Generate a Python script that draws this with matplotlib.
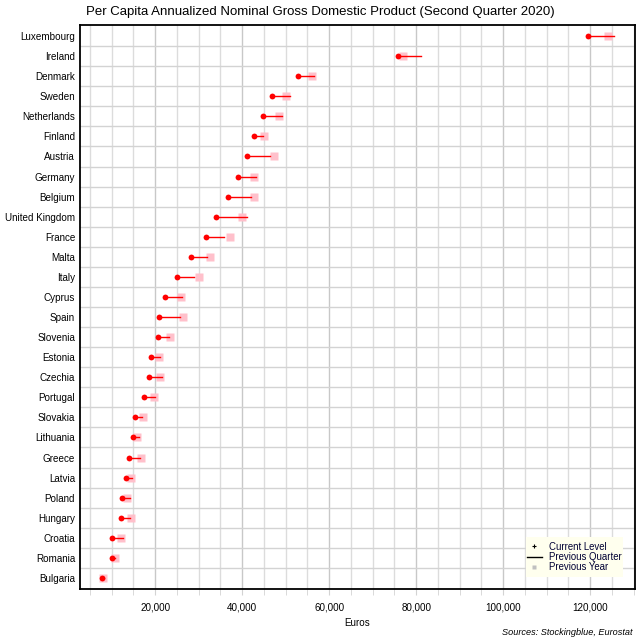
import matplotlib
matplotlib.use("Agg")
import matplotlib.pyplot as plt
from matplotlib.lines import Line2D
from matplotlib.patches import Rectangle
from matplotlib.ticker import MultipleLocator, FuncFormatter

plt.rcParams["font.family"] = ["Liberation Sans", "DejaVu Sans"]

countries = ["Luxembourg", "Ireland", "Denmark", "Sweden", "Netherlands", "Finland",
             "Austria", "Germany", "Belgium", "United Kingdom", "France", "Malta",
             "Italy", "Cyprus", "Spain", "Slovenia", "Estonia", "Czechia", "Portugal",
             "Slovakia", "Lithuania", "Greece", "Latvia", "Poland", "Hungary",
             "Croatia", "Romania", "Bulgaria"]
# euros
current = [119600, 75900, 52900, 46900, 44800, 42800, 41100, 39000, 36800, 34000,
           31700, 28300, 25100, 22300, 20900, 20700, 19100, 18600, 17500, 15400,
           14900, 14000, 13200, 12400, 12200, 10100, 10000, 7700]
prev_quarter = [125600, 81200, 56500, 51000, 49100, 44800, 46300, 43100, 42000, 41000,
                35800, 31800, 28900, 26100, 25700, 23100, 21100, 21500, 19900, 16900,
                16200, 16500, 14600, 14200, 14300, 12600, 10800, 8300]
prev_year = [124200, 76900, 56100, 50000, 48400, 45000, 47200, 42700, 42800, 39900,
             37200, 32600, 30000, 26000, 26400, 23400, 20800, 21000, 19800, 17200,
             15700, 16700, 14400, 13600, 14400, 12200, 10800, 8000]

fig = plt.figure(figsize=(6.4, 6.4), dpi=100)
ax = fig.add_axes([0.125, 0.0797, 0.867, 0.8812])

y = list(range(len(countries)))
ax.plot(prev_year, y, "s", color="#FFC0CB", ms=6, mec="none", zorder=3)
for yi, c, q in zip(y, current, prev_quarter):
    ax.plot([c, q], [yi, yi], color="red", lw=1.0, zorder=4)
ax.plot(current, y, "o", color="red", ms=4.2, mec="none", zorder=5)

ax.set_xlim(2700, 130300)
ax.set_ylim(len(countries) - 0.45, -0.55)
ax.set_yticks(y)
ax.set_yticklabels(countries, fontsize=7.1)
ax.set_yticks([k + 0.5 for k in y[:-1]], minor=True)
ax.tick_params(axis="y", which="both", length=0, pad=3.5)

ax.xaxis.set_major_locator(MultipleLocator(20000))
ax.xaxis.set_minor_locator(MultipleLocator(5000))
ax.xaxis.set_major_formatter(FuncFormatter(lambda v, p: f"{int(v):,}"))
ax.tick_params(axis="x", which="both", length=4, color="#d3d3d3", labelsize=7.1, pad=6)

ax.grid(True, axis="x", which="major", color="#c8c8c8", lw=1.0, zorder=0)
ax.grid(True, axis="x", which="minor", color="#dcdcdc", lw=1.0, zorder=0)
ax.grid(True, axis="y", which="minor", color="#d3d3d3", lw=1.0, zorder=0)
ax.set_axisbelow(True)
for s in ax.spines.values():
    s.set_linewidth(1.3)
    s.set_color("black")

ax.set_xlabel("Euros", fontsize=7.1, labelpad=4)
fig.text(0.5, 0.981, "Per Capita Annualized Nominal Gross Domestic Product (Second Quarter 2020)",
         ha="center", va="center", fontsize=9.5)
fig.text(0.988, 0.012, "Sources: Stockingblue, Eurostat", ha="right", va="center",
         fontsize=6.6, style="italic")

# legend box drawn by hand so the padding can be tight left/right
ax.add_patch(Rectangle((0.8036, 0.0213), 0.1744, 0.0709, transform=ax.transAxes,
                       facecolor="#FFFFEE", edgecolor="none", zorder=6))
handles = [Line2D([], [], ls="none", marker="+", color="black", ms=3.5, mew=0.8),
           Line2D([], [], color="black", lw=1.0),
           Line2D([], [], ls="none", marker="s", color="#c0c0c0", ms=3.5, mec="none")]
leg = ax.legend(handles, ["Current Level", "Previous Quarter", "Previous Year"],
                loc="center", bbox_to_anchor=(0.8908, 0.0567), borderaxespad=0,
                fontsize=6.9, labelspacing=0.05, handlelength=1.55, handletextpad=0.75,
                borderpad=0, frameon=False)
leg.set_zorder(7)
for t in leg.get_texts():
    t.set_color("#000033")

fig.savefig("out.png", dpi=100)
